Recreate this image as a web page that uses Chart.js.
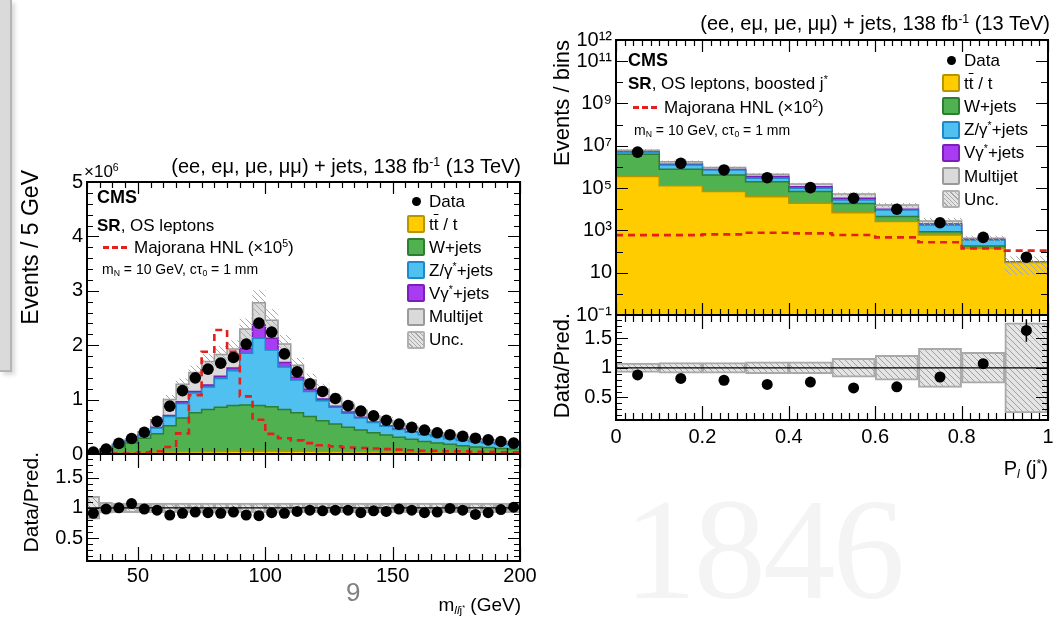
<!DOCTYPE html>
<html><head><meta charset="utf-8">
<script src="https://cdn.jsdelivr.net/npm/chart.js@4.4.1/dist/chart.umd.min.js"></script>
<style>
html,body{margin:0;padding:0;background:#fff}
body{position:relative;width:1063px;height:620px;overflow:hidden;font-family:"Liberation Sans",Arial,Helvetica,sans-serif;color:#000}
canvas{position:absolute}
.t{position:absolute;white-space:nowrap;line-height:1}
.t sup,.rot sup{font-size:0.62em;vertical-align:0.55em;line-height:0}
.t sub,.rot sub{font-size:0.62em;vertical-align:-0.25em;line-height:0}
.rot{position:absolute;white-space:nowrap;line-height:1;transform-origin:0 0;transform:rotate(-90deg) translate(-100%,-50%)}
.sw{position:absolute;width:18px;height:18px;border:2px solid;border-radius:2px;box-sizing:border-box}
.dot{position:absolute;width:9px;height:9px;border-radius:50%;background:#000}
.dash{position:absolute;height:3px;background:repeating-linear-gradient(to right,#e4201c 0 6px,transparent 6px 9px)}
.ob{text-decoration:overline}
</style></head>
<body>
<div style="position:absolute;left:0;top:0;width:10px;height:370px;background:#dadada;border-right:2px solid #b5b5b5;border-bottom:2px solid #b5b5b5;box-shadow:3px 3px 4px rgba(0,0,0,0.15)"></div>
<div class="t" style="left:624px;top:477px;font-family:'Liberation Serif',serif;font-size:145px;color:#f4f4f4;letter-spacing:-3px">1846</div>

<canvas id="lm"></canvas><canvas id="lr"></canvas><canvas id="rm"></canvas><canvas id="rr"></canvas>
<div id="txt"></div>

<script>
// ================= DATA =================
// Left plot: m_llj* (GeV), 5 GeV bins, values in units of 10^6 events
const massBinLow = [30,35,40,45,50,55,60,65,70,75,80,85,90,95,100,105,110,115,120,125,130,135,140,145,150,155,160,165,170,175,180,185,190,195];
const massBinWidth = 5;
const massTickValues = [50,100,150,200];
const massTickLabels = ['50','100','150','200'];
const massYTickValues = [0,1,2,3,4,5];
const massData = [0.035,0.09,0.195,0.285,0.40,0.60,0.88,1.165,1.40,1.56,1.67,1.775,2.02,2.405,2.24,1.84,1.51,1.29,1.15,1.02,0.89,0.79,0.70,0.62,0.55,0.49,0.44,0.39,0.355,0.325,0.29,0.26,0.23,0.20];
const massRatio = [0.91,0.98,1.00,1.07,0.98,0.96,0.88,0.91,0.93,0.92,0.91,0.93,0.88,0.87,0.92,0.91,0.94,0.96,0.95,0.96,0.96,0.92,0.95,0.94,0.98,0.96,0.92,0.93,0.99,0.96,0.89,0.92,0.97,1.01];
const massUnc = [0.19,0.09,0.08,0.08,0.08,0.08,0.08,0.08,0.08,0.08,0.08,0.08,0.08,0.08,0.08,0.08,0.08,0.08,0.08,0.08,0.08,0.08,0.08,0.08,0.08,0.08,0.08,0.08,0.08,0.08,0.08,0.08,0.08,0.08];
const massSignal = [0.005,0.005,0.01,0.01,0.03,0.05,0.13,0.38,1.08,1.88,2.28,1.88,1.06,0.63,0.37,0.29,0.25,0.20,0.16,0.14,0.12,0.11,0.10,0.09,0.08,0.07,0.06,0.06,0.05,0.05,0.04,0.04,0.03,0.03];
const massTT = [0.005,0.01,0.015,0.02,0.03,0.03,0.035,0.04,0.04,0.045,0.045,0.05,0.05,0.05,0.05,0.05,0.05,0.05,0.045,0.045,0.04,0.04,0.04,0.035,0.035,0.03,0.03,0.03,0.03,0.025,0.025,0.025,0.02,0.02];
const massW = [0.015,0.05,0.115,0.18,0.26,0.34,0.485,0.62,0.72,0.775,0.815,0.84,0.85,0.84,0.82,0.77,0.71,0.64,0.565,0.505,0.45,0.40,0.35,0.315,0.275,0.24,0.20,0.17,0.15,0.125,0.105,0.095,0.08,0.07];
const massZ = [0.01,0.02,0.03,0.04,0.05,0.11,0.17,0.27,0.36,0.41,0.53,0.64,0.95,1.24,1.04,0.78,0.60,0.46,0.37,0.31,0.26,0.22,0.19,0.16,0.14,0.13,0.125,0.12,0.10,0.10,0.095,0.08,0.08,0.075];
const massVG = [0,0,0.005,0.005,0.005,0.01,0.02,0.03,0.03,0.04,0.04,0.05,0.09,0.24,0.22,0.08,0.05,0.04,0.03,0.02,0.02,0.015,0.01,0.01,0.01,0.01,0.005,0.005,0.005,0.005,0.005,0.005,0.005,0.005];
const massMJ = [0.01,0.01,0.03,0.025,0.065,0.14,0.29,0.32,0.35,0.43,0.40,0.35,0.36,0.41,0.33,0.34,0.22,0.17,0.18,0.15,0.13,0.125,0.11,0.10,0.09,0.08,0.08,0.065,0.065,0.055,0.05,0.055,0.045,0.03];

// Right plot: P_l(j*), 0.1 bins, events (log scale)
const plBinLow = [0,0.1,0.2,0.3,0.4,0.5,0.6,0.7,0.8,0.9];
const plBinWidth = 0.1;
const plTickValues = [0,0.2,0.4,0.6,0.8,1];
const plTickLabels = ['0','0.2','0.4','0.6','0.8','1'];
const logTickValues = [0.1,1,10,1e2,1e3,1e4,1e5,1e6,1e7,1e8,1e9,1e10,1e11,1e12];
const logTickLabels = ['10\u207B\u00B9','','10','','10\u00B3','','10\u2075','','10\u2077','','10\u2079','','10\u00B9\u00B9','10\u00B9\u00B2'];
const plData = [5.0e6,1.48e6,7.2e5,3.1e5,1.05e5,3.3e4,1.0e4,2.3e3,468,54];
const plRatio = [0.88,0.82,0.79,0.72,0.76,0.66,0.68,0.845,1.07,1.63];
const plRatioErr = [0.01,0.01,0.01,0.01,0.01,0.02,0.03,0.05,0.08,0.19];
const plUnc = [0.08,0.09,0.09,0.10,0.10,0.16,0.21,0.33,0.26,0.76];
const plSignal = [600,600,650,776,724,603,468,275,141,110];
const plTT = [3.5e5,1.3e5,6.8e4,3.9e4,1.9e4,6.9e3,2.6e3,600,141,30];
const plW = [3.6e6,6.5e5,3.5e5,1.6e5,4.9e4,1.2e4,1.9e3,270,41,1];
const plZ = [1.15e6,4.5e5,3.0e5,9.0e4,3.0e4,8.5e3,4.6e3,950,173,1.5];
const plVG = [1.0e5,9.0e4,4.0e4,6.0e4,1.9e4,5.5e3,900,180,15,0.2];
const plMJ = [1.0e6,4.6e5,1.7e5,1.0e5,3.8e4,1.9e4,5.8e3,800,57,0.5];

// ================= STYLE =================
const COL = {
  tt:['#ffcc00','#b89400'], w:['#4fb14f','#2e7d32'], z:['#4fc0f0','#1e88c8'],
  vg:['#a93cf2','#7a1fb8'], mj:['#dadada','#9a9a9a'], sig:'#e4201c'
};
Chart.defaults.font.family = "'Liberation Sans', Arial, Helvetica, sans-serif";
Chart.defaults.color = '#000';

function makeHatch(ctx, bg, fg) {
  const n = 6, c = document.createElement('canvas'); c.width = n; c.height = n;
  const g = c.getContext('2d');
  if (bg) { g.fillStyle = bg; g.fillRect(0,0,n,n); }
  g.strokeStyle = fg; g.lineWidth = 1;
  g.beginPath();
  for (const o of [-n,0,n]) { g.moveTo(o,0); g.lineTo(o+n,n); }
  g.stroke();
  return ctx.createPattern(c,'repeat');
}
function stepPts(low, w, vals) {
  const p = low.map((x,i)=>({x:x, y:vals[i]}));
  p.push({x: low[low.length-1]+w, y: vals[vals.length-1]});
  return p;
}
function cumulate(layers) {
  const out = []; let acc = layers[0].map(()=>0);
  layers.forEach(l => { acc = acc.map((a,i)=>a+l[i]); out.push(acc.slice()); });
  return out;
}
function range(a, b, s) { const r=[]; for (let i=0; a+i*s <= b+1e-9; i++) r.push(+(a+i*s).toFixed(6)); return r; }

const frameTicks = {
  id:'frameTicks',
  afterDatasetsDraw(chart, args, o) {
    const {ctx, chartArea:a, scales} = chart;
    const xs = scales.x, ys = scales.y;
    ctx.save();
    ctx.strokeStyle = '#000'; ctx.lineWidth = 1.2;
    ctx.beginPath();
    const xt = (vals, len) => vals.forEach(v => { const p = Math.round(xs.getPixelForValue(v))+0.5;
      ctx.moveTo(p, a.bottom); ctx.lineTo(p, a.bottom-len); ctx.moveTo(p, a.top); ctx.lineTo(p, a.top+len); });
    const yt = (vals, len) => vals.forEach(v => { const p = Math.round(ys.getPixelForValue(v))+0.5;
      ctx.moveTo(a.left, p); ctx.lineTo(a.left+len, p); ctx.moveTo(a.right, p); ctx.lineTo(a.right-len, p); });
    xt(o.xMajor, o.xMaj); xt(o.xMinor, o.xMin); yt(o.yMajor, o.yMaj); yt(o.yMinor, o.yMin);
    ctx.stroke();
    if (o.err) {
      ctx.lineWidth = 1.5; ctx.beginPath();
      o.err.c.forEach((c,i) => { const px = xs.getPixelForValue(c);
        ctx.moveTo(px, ys.getPixelForValue(o.err.v[i]-o.err.e[i])); ctx.lineTo(px, ys.getPixelForValue(o.err.v[i]+o.err.e[i])); });
      ctx.stroke();
    }
    ctx.lineWidth = 2;
    ctx.strokeRect(a.left, a.top, a.right-a.left, a.bottom-a.top);
    ctx.restore();
  }
};

function panel(id, area, xh, build) {
  const PL=70, PT=20, PR=30, PB=20;
  const cv = document.getElementById(id);
  const w = area.r-area.l+PL+PR, h = area.b-area.t+PT+PB+xh;
  cv.width = w; cv.height = h;
  Object.assign(cv.style, {left:(area.l-PL)+'px', top:(area.t-PT)+'px', width:w+'px', height:h+'px'});
  const ctx = cv.getContext('2d');
  const cfg = build(ctx);
  cfg.options = Object.assign({
    responsive:false, animation:false, events:[],
    layout:{padding:{left:0, top:PT, right:PR, bottom:PB}},
  }, cfg.options);
  cfg.options.plugins = Object.assign({legend:{display:false}, tooltip:{enabled:false}}, cfg.options.plugins);
  cfg.plugins = [frameTicks];
  return new Chart(ctx, cfg);
}
function yAxis(type, min, max, vals, labels, pad) {
  return {type, min, max, afterFit(s){ s.width = 70; },
    afterBuildTicks(s){ s.ticks = vals.map(v=>({value:v})); },
    grid:{display:false, drawTicks:false}, border:{display:false},
    ticks:{autoSkip:false, padding:pad, font:{size:20}, color:'#000',
      callback:(v,i)=> labels ? labels[i] : String(v)}};
}
function xAxis(min, max, vals, labels, xh, pad) {
  if (!vals) return {type:'linear', min, max, offset:false, display:false};
  return {type:'linear', min, max, offset:false, afterFit(s){ s.height = xh; },
    afterBuildTicks(s){ s.ticks = vals.map(v=>({value:v})); },
    grid:{display:false, drawTicks:false, offset:false}, border:{display:false},
    ticks:{autoSkip:false, maxRotation:0, padding:pad, font:{size:20}, color:'#000', callback:(v,i)=>labels[i]}};
}
function stackSets(low, w, layers, cols) {
  const cum = cumulate(layers);
  return cum.map((c,k)=>({type:'line', data:stepPts(low,w,c), stepped:true, fill:'start',
    backgroundColor:cols[k][0], borderColor:cols[k][1], borderWidth:1.5, pointRadius:0}));
}
function mainSets(ctx, low, w, data, signal, unc, layers) {
  const cum = cumulate(layers), tot = cum[cum.length-1];
  const centers = low.map(x=>x+w/2);
  return [
    {type:'line', data:centers.map((x,i)=>({x, y:data[i]})), showLine:false, pointRadius:5.8, pointBackgroundColor:'#000', pointBorderWidth:0},
    {type:'line', data:stepPts(low,w,signal), stepped:true, fill:false, borderColor:COL.sig, borderWidth:2.6, borderDash:[7,5], pointRadius:0},
    {type:'bar', data:centers.map((x,i)=>({x, y:[tot[i]*(1-unc[i]), tot[i]*(1+unc[i])]})), backgroundColor:makeHatch(ctx,null,'#a8a8a8'),
      borderWidth:0, barPercentage:1, categoryPercentage:1, grouped:false},
    ...stackSets(low, w, layers, [COL.tt, COL.w, COL.z, COL.vg, COL.mj])
  ];
}
function ratioSets(ctx, low, w, ratio, unc, xmin, xmax) {
  const centers = low.map(x=>x+w/2);
  return [
    {type:'line', data:centers.map((x,i)=>({x, y:ratio[i]})), showLine:false, pointRadius:5.5, pointBackgroundColor:'#000', pointBorderWidth:0},
    {type:'line', data:[{x:xmin,y:1},{x:xmax,y:1}], borderColor:'#000', borderWidth:1.2, pointRadius:0, fill:false},
    {type:'bar', data:centers.map((x,i)=>({x, y:[1-unc[i], 1+unc[i]]})), backgroundColor:makeHatch(ctx,'#e4e4e4','#a0a0a0'),
      borderColor:'#a9a9a9', borderWidth:2, borderSkipped:false, barPercentage:1, categoryPercentage:1, grouped:false}
  ];
}

const LM = {l:87,t:182,r:520,b:454}, LR = {l:87,t:454,r:520,b:561};
const RM = {l:616,t:40,r:1048,b:315}, RR = {l:616,t:315,r:1048,b:420};
const RATIO_MIN = 0.12, RATIO_MAX = 1.89;

panel('lm', LM, 0, ctx => ({type:'line',
  data:{datasets: mainSets(ctx, massBinLow, massBinWidth, massData, massSignal, massUnc, [massTT, massW, massZ, massVG, massMJ])},
  options:{scales:{x:xAxis(30,200), y:yAxis('linear',0,5,massYTickValues,null,4)},
    plugins:{frameTicks:{xMajor:massTickValues, xMinor:range(30,200,5), xMaj:12, xMin:6, yMajor:massYTickValues, yMinor:range(0,5,0.2), yMaj:12, yMin:6}}}}));

panel('lr', LR, 40, ctx => ({type:'line',
  data:{datasets: ratioSets(ctx, massBinLow, massBinWidth, massRatio, massUnc, 30, 200)},
  options:{scales:{x:xAxis(30,200,massTickValues,massTickLabels,40,3), y:yAxis('linear',RATIO_MIN,RATIO_MAX,[0.5,1,1.5],null,4)},
    plugins:{frameTicks:{xMajor:massTickValues, xMinor:range(30,200,5), xMaj:14, xMin:7, yMajor:[0.5,1,1.5], yMinor:range(0.2,1.8,0.1), yMaj:12, yMin:6}}}}));

panel('rm', RM, 0, ctx => ({type:'line',
  data:{datasets: mainSets(ctx, plBinLow, plBinWidth, plData, plSignal, plUnc, [plTT, plW, plZ, plVG, plMJ])},
  options:{scales:{x:xAxis(0,1), y:yAxis('logarithmic',0.1,1e12,logTickValues,logTickLabels,4)},
    plugins:{frameTicks:{xMajor:plTickValues, xMinor:range(0,1,0.02), xMaj:12, xMin:6,
      yMajor:logTickValues.filter((v,i)=>logTickLabels[i]), yMinor:logTickValues.filter((v,i)=>!logTickLabels[i]), yMaj:12, yMin:7}}}}));

panel('rr', RR, 40, ctx => ({type:'line',
  data:{datasets: ratioSets(ctx, plBinLow, plBinWidth, plRatio, plUnc, 0, 1)},
  options:{scales:{x:xAxis(0,1,plTickValues,plTickLabels,40,5), y:yAxis('linear',RATIO_MIN,RATIO_MAX,[0.5,1,1.5],null,4)},
    plugins:{frameTicks:{xMajor:plTickValues, xMinor:range(0,1,0.02), xMaj:14, xMin:7, yMajor:[0.5,1,1.5], yMinor:range(0.2,1.8,0.1), yMaj:12, yMin:6,
      err:{c:plBinLow.map(x=>x+plBinWidth/2), v:plRatio, e:plRatioErr}}}}}));

// ================= TEXT =================
const txt = document.getElementById('txt');
function T(html, css) { const d = document.createElement('div'); d.className='t'; d.innerHTML = html; Object.assign(d.style, css); txt.appendChild(d); return d; }
function R(html, x, yEnd, size) { const d = document.createElement('div'); d.className='rot'; d.innerHTML = html;
  Object.assign(d.style, {left:x+'px', top:yEnd+'px', fontSize:size+'px'}); txt.appendChild(d); }
const lumi = '(ee, e\u03BC, \u03BCe, \u03BC\u03BC) + jets, 138 fb<sup>-1</sup> (13 TeV)';
const legendRows = [
  {k:'dot', html:'Data'},
  {k:'tt', html:'t<span class="ob">t</span> / t'},
  {k:'w', html:'W+jets'},
  {k:'z', html:'Z/\u03B3<sup>*</sup>+jets'},
  {k:'vg', html:'V\u03B3<sup>*</sup>+jets'},
  {k:'mj', html:'Multijet'},
  {k:'unc', html:'Unc.'}
];
function legend(x, y0, dy) {
  legendRows.forEach((r,i) => {
    const cy = y0 + i*dy;
    if (r.k === 'dot') { const d = document.createElement('div'); d.className='dot'; Object.assign(d.style,{left:(x+5)+'px', top:(cy-4.5)+'px'}); txt.appendChild(d); }
    else { const s = document.createElement('div'); s.className='sw';
      if (r.k === 'unc') Object.assign(s.style,{borderColor:'#b0b0b0', background:'repeating-linear-gradient(45deg,#e4e4e4 0 2px,#a8a8a8 2px 3px)'});
      else Object.assign(s.style,{borderColor:COL[r.k][1], background:COL[r.k][0]});
      Object.assign(s.style,{left:x+'px', top:(cy-9)+'px'}); txt.appendChild(s); }
    T(r.html, {left:(x+22)+'px', top:(cy-8.5)+'px', fontSize:'17px'});
  });
}
function dash(x, y, w) { const d = document.createElement('div'); d.className='dash'; Object.assign(d.style,{left:x+'px', top:(y-1.5)+'px', width:w+'px'}); txt.appendChild(d); }

// left plot texts
T(lumi, {right:'542px', top:'156px', fontSize:'20px'});
T('\u00D710<sup>6</sup>', {left:'84px', top:'163px', fontSize:'17px'});
T('<b>CMS</b>', {left:'97px', top:'188px', fontSize:'18px'});
T('<b>SR</b>, OS leptons', {left:'97px', top:'217px', fontSize:'17px'});
dash(103, 247, 27);
T('Majorana HNL (\u00D710<sup>5</sup>)', {left:'134px', top:'239px', fontSize:'17px'});
T('m<sub>N</sub> = 10 GeV, c\u03C4<sub>0</sub> = 1 mm', {left:'102px', top:'262px', fontSize:'14px'});
legend(407, 201, 23.1);
R('Events / 5 GeV', 30, 170, 23);
R('Data/Pred.', 30, 452, 21);
T('m<sub><i>ll</i>j<sup>*</sup></sub> (GeV)', {right:'542px', top:'595px', fontSize:'19px'});
T('9', {left:'346px', top:'579px', fontSize:'26px', color:'#808080'});

// right plot texts
T(lumi, {right:'13px', top:'13px', fontSize:'20px'});
T('<b>CMS</b>', {left:'628px', top:'51px', fontSize:'18px'});
T('<b>SR</b>, OS leptons, boosted j<sup>*</sup>', {left:'628px', top:'75px', fontSize:'17px'});
dash(633, 107, 27);
T('Majorana HNL (\u00D710<sup>2</sup>)', {left:'664px', top:'99px', fontSize:'17px'});
T('m<sub>N</sub> = 10 GeV, c\u03C4<sub>0</sub> = 1 mm', {left:'634px', top:'123px', fontSize:'14px'});
legend(942, 60, 23.2);
R('Events / bins', 562, 40, 22);
R('Data/Pred.', 562, 313, 22);
T('P<sub><i>l</i></sub> (j<sup>*</sup>)', {right:'15px', top:'458px', fontSize:'20px'});
</script>
</body></html>
